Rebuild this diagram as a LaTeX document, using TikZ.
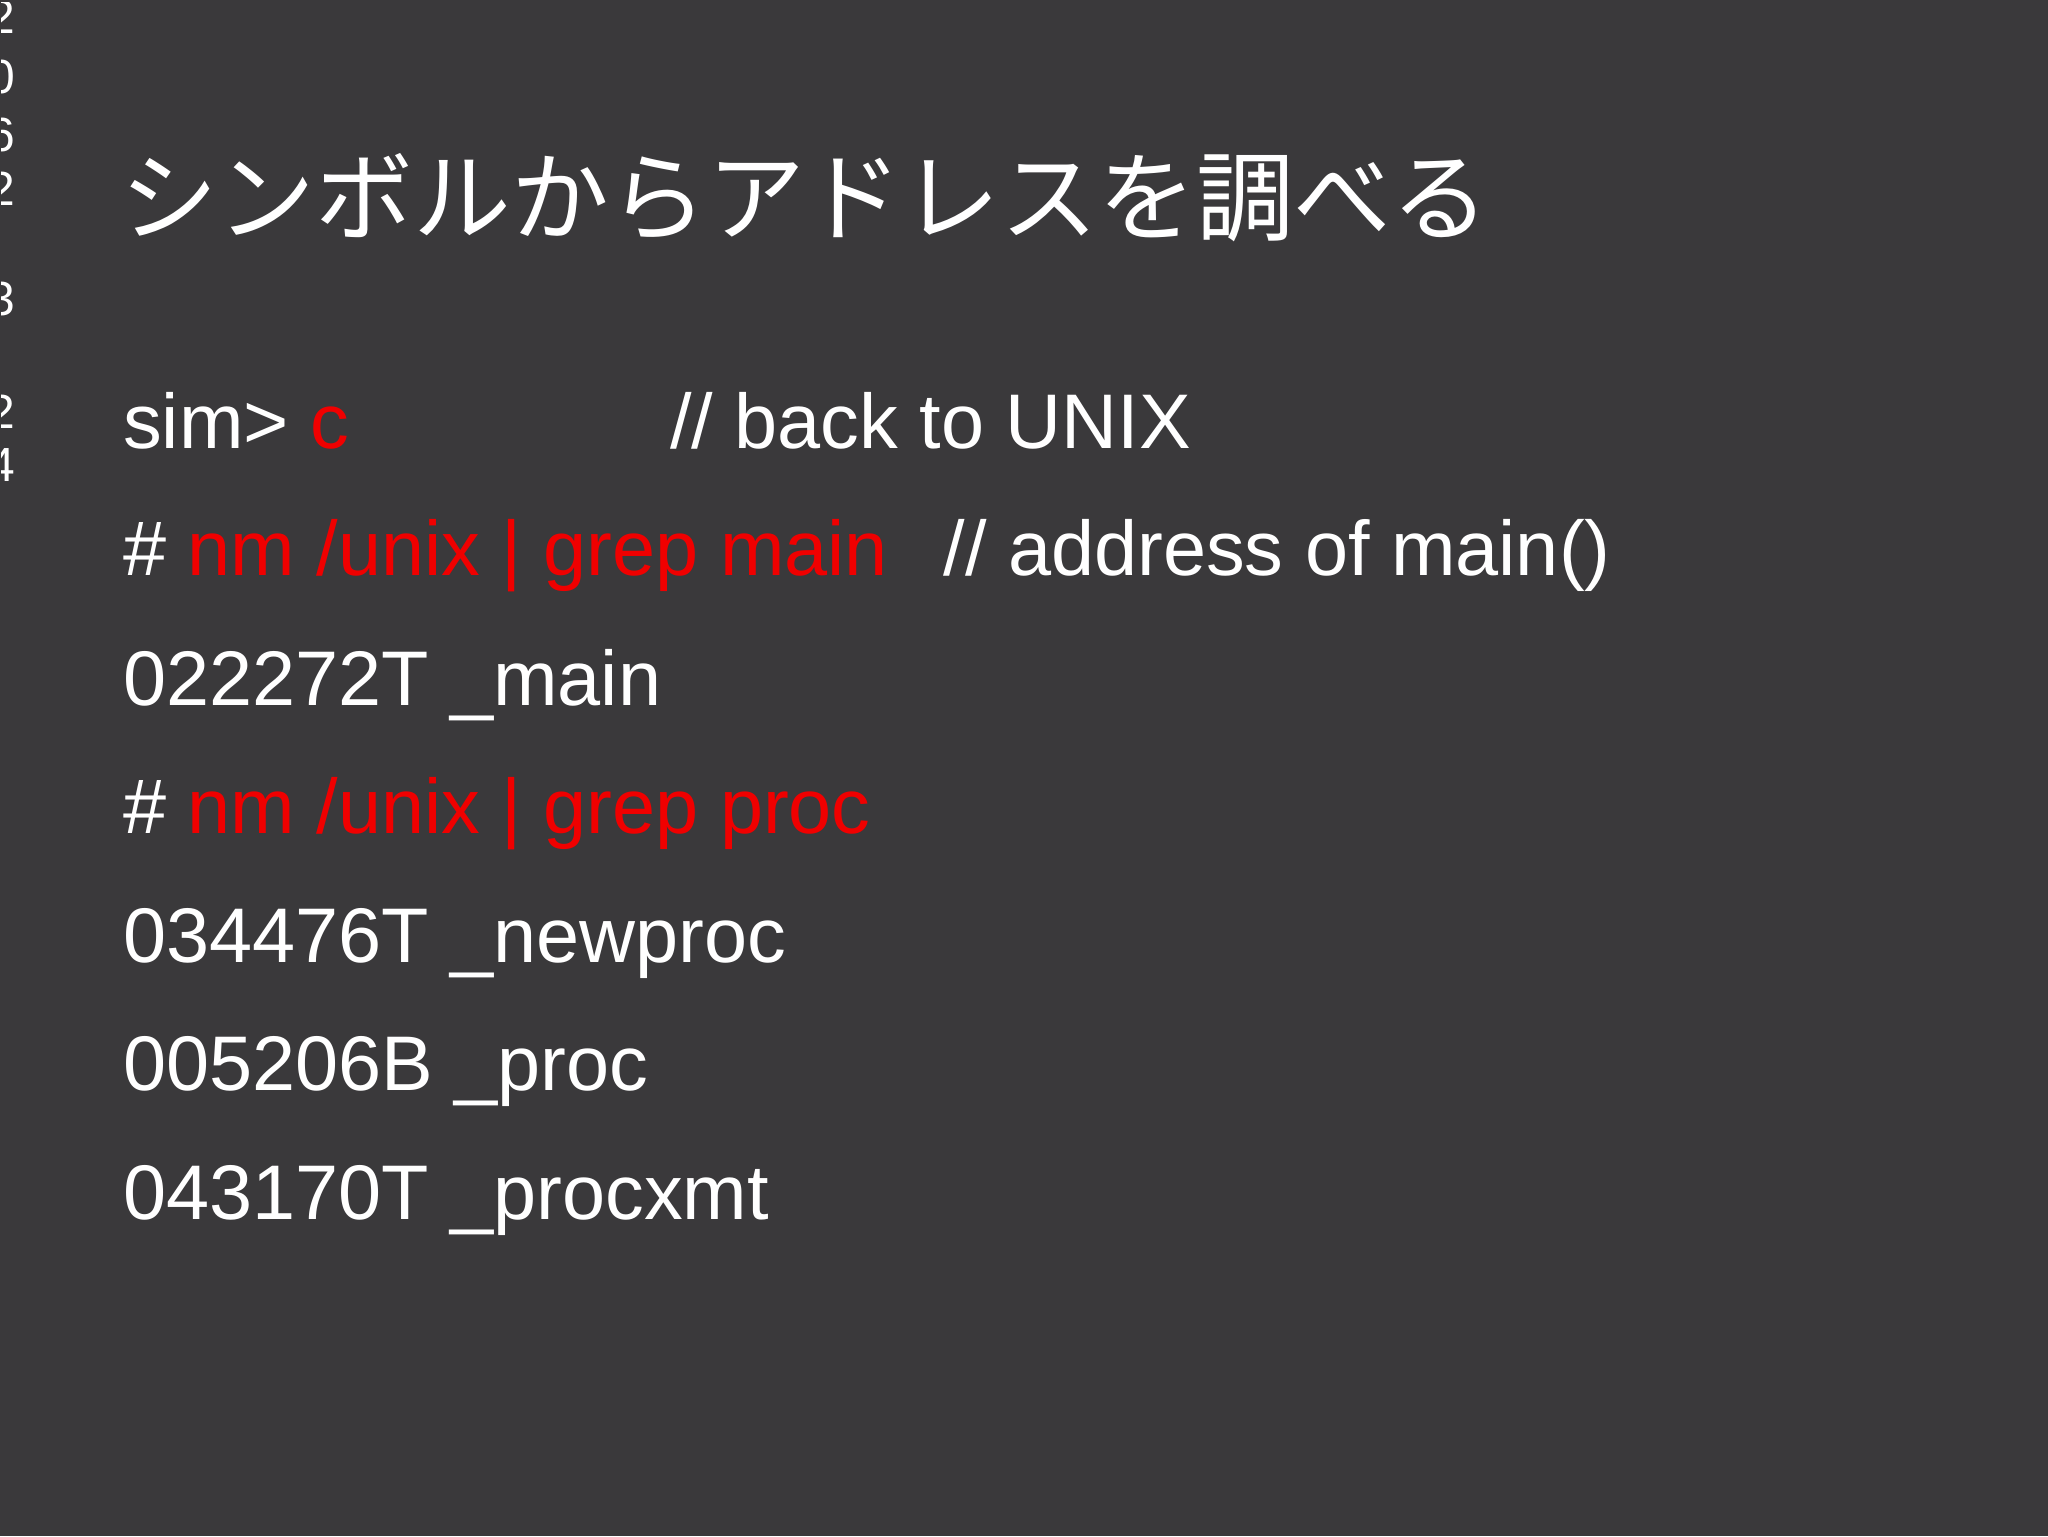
\documentclass[tikz,border=0pt]{standalone}
\usepackage{fontspec}
\setmainfont{Liberation Sans}
\newfontfamily\cjk{Noto Sans CJK JP}
\definecolor{bg}{RGB}{58,57,59}
\definecolor{cmd}{RGB}{240,0,0}
\begin{document}
\begin{tikzpicture}[x=0.5pt,y=-0.5pt,
  line/.style={anchor=base west,inner sep=0pt,text=white,font=\fontsize{38.8}{46}\selectfont},
  side/.style={anchor=base,inner sep=0pt,text=white,font=\fontsize{24}{28}\selectfont}]
\fill[bg] (-2,-2) rectangle (2050,1537);
\useasboundingbox (0,0) rectangle (2048,1535);
\begin{scope}
\clip (0,0) rectangle (2048,1535);
\foreach \d/\yy [count=\i] in {2/32,0/92,6/150,2/204,3/314,2/427,4/480}
  \node[side] (s\i) at (0,\yy) {\d};
\end{scope}
\node[anchor=base west,inner sep=0pt,text=white,font=\cjk\fontsize{49}{56}\selectfont] (title) at (118,232) {シンボルからアドレスを調べる};
\node[line] (l1) at (121,447) {sim> \textcolor{cmd}{c}};
\node[line] (c1) at (669,447) {// back to UNIX};
\node[line] (l2) at (121,575) {\# \textcolor{cmd}{nm /unix | grep main}};
\node[line] (c2) at (943,575) {// address of main()};
\node[line] (l3) at (121,705) {022272T \_main};
\node[line] (l4) at (121,833) {\# \textcolor{cmd}{nm /unix | grep proc}};
\node[line] (l5) at (121,962) {034476T \_newproc};
\node[line] (l6) at (121,1091) {005206B \_proc};
\node[line] (l7) at (121,1220) {043170T \_procxmt};
\end{tikzpicture}
\end{document}
